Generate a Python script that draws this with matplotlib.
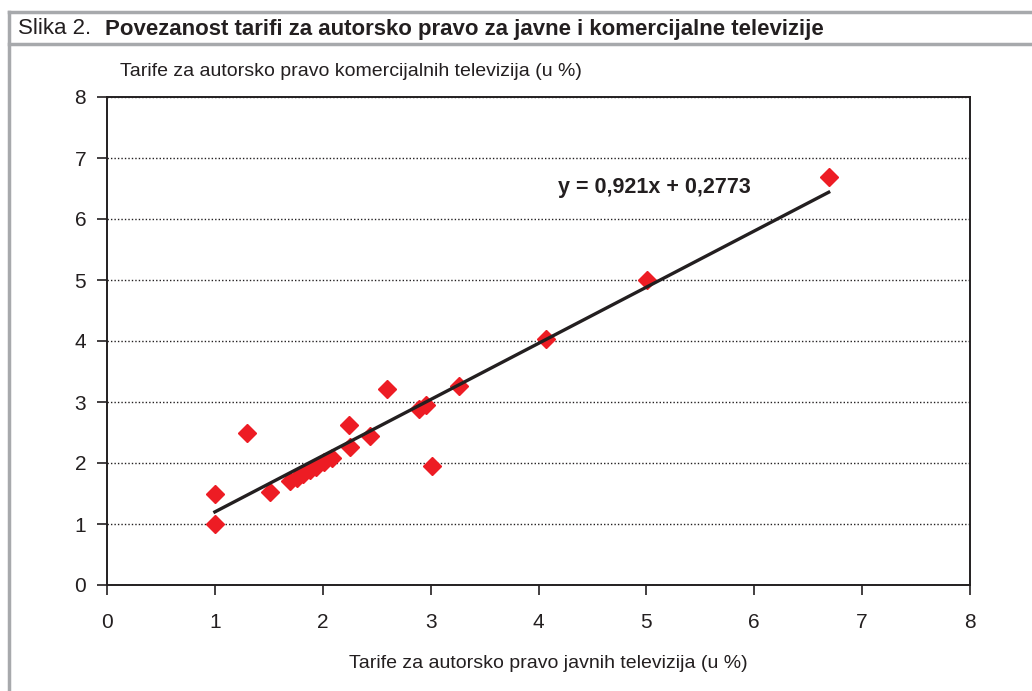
import matplotlib.pyplot as plt
from matplotlib.lines import Line2D
import numpy as np

plt.rcParams['font.family'] = ['Liberation Sans', 'DejaVu Sans']

# Tarife javnih (x) i komercijalnih (y) televizija, u %
javne = [1.00, 1.00, 1.30, 1.51, 1.70, 1.76, 1.82, 1.88, 1.94, 2.01, 2.09,
         2.24, 2.25, 2.44, 2.60, 2.89, 2.96, 3.01, 3.26, 4.07, 5.01, 6.69]
komercijalne = [1.00, 1.50, 2.50, 1.52, 1.70, 1.76, 1.82, 1.88, 1.94, 2.01, 2.08,
                2.62, 2.26, 2.44, 3.21, 2.88, 2.95, 1.95, 3.26, 4.03, 5.00, 6.69]
nagib = 0.921
odsjecak = 0.2773
ticks = [0, 1, 2, 3, 4, 5, 6, 7, 8]

fig = plt.figure(figsize=(10.32, 6.91), dpi=100)
ax = fig.add_axes([107 / 1032, 1 - 585 / 691, 863 / 1032, 488 / 691])

# tocke i pravac regresije
ax.plot(javne, komercijalne, linestyle='none', marker='D', markersize=8.8,
        color='#ed1c24', zorder=3)
xl = np.array([min(javne), max(javne)])
ax.plot(xl, nagib * xl + odsjecak, color='#231f20', linewidth=2.4, zorder=4)

ax.set_xlim(0, 8)
ax.set_ylim(0, 8)
ax.set_xticks(ticks)
ax.set_yticks(ticks)
ax.tick_params(axis='both', labelsize=15, length=7, width=1.2, color='#231f20',
               labelcolor='#231f20')
ax.tick_params(axis='x', pad=13)
ax.tick_params(axis='y', pad=8)
for s in ax.spines.values():
    s.set_linewidth(1.4)
    s.set_color('#231f20')
ax.yaxis.grid(True, linestyle=(0, (1, 1.5)), color='#231f20', linewidth=1.0)
ax.set_axisbelow(True)

ax.text(5.07, 6.52, 'y = 0,921x + 0,2773', ha='center', va='center',
        fontsize=15.5, fontweight='bold', color='#231f20')

fig.text(120 / 1032, 1 - 72 / 691, 'Tarife za autorsko pravo komercijalnih televizija (u %)',
         ha='left', va='center', fontsize=14, color='#231f20')
fig.text(548 / 1032, 1 - 663 / 691, 'Tarife za autorsko pravo javnih televizija (u %)',
         ha='center', va='center', fontsize=14, color='#231f20')

# okvir naslova
siva = '#a7a9ac'
fig.add_artist(Line2D([9 / 1032, 1], [1 - 12 / 691] * 2, color=siva, linewidth=2.5))
fig.add_artist(Line2D([9 / 1032, 1], [1 - 44 / 691] * 2, color=siva, linewidth=2.5))
fig.add_artist(Line2D([9 / 1032] * 2, [0, 1 - 12 / 691], color=siva, linewidth=2.5))
fig.text(18 / 1032, 1 - 29 / 691, 'Slika 2.', ha='left', va='center',
         fontsize=16, color='#231f20')
fig.text(105 / 1032, 1 - 29 / 691,
         'Povezanost tarifi za autorsko pravo za javne i komercijalne televizije',
         ha='left', va='center', fontsize=16, fontweight='bold', color='#231f20')

fig.savefig('out.png', dpi=100)
